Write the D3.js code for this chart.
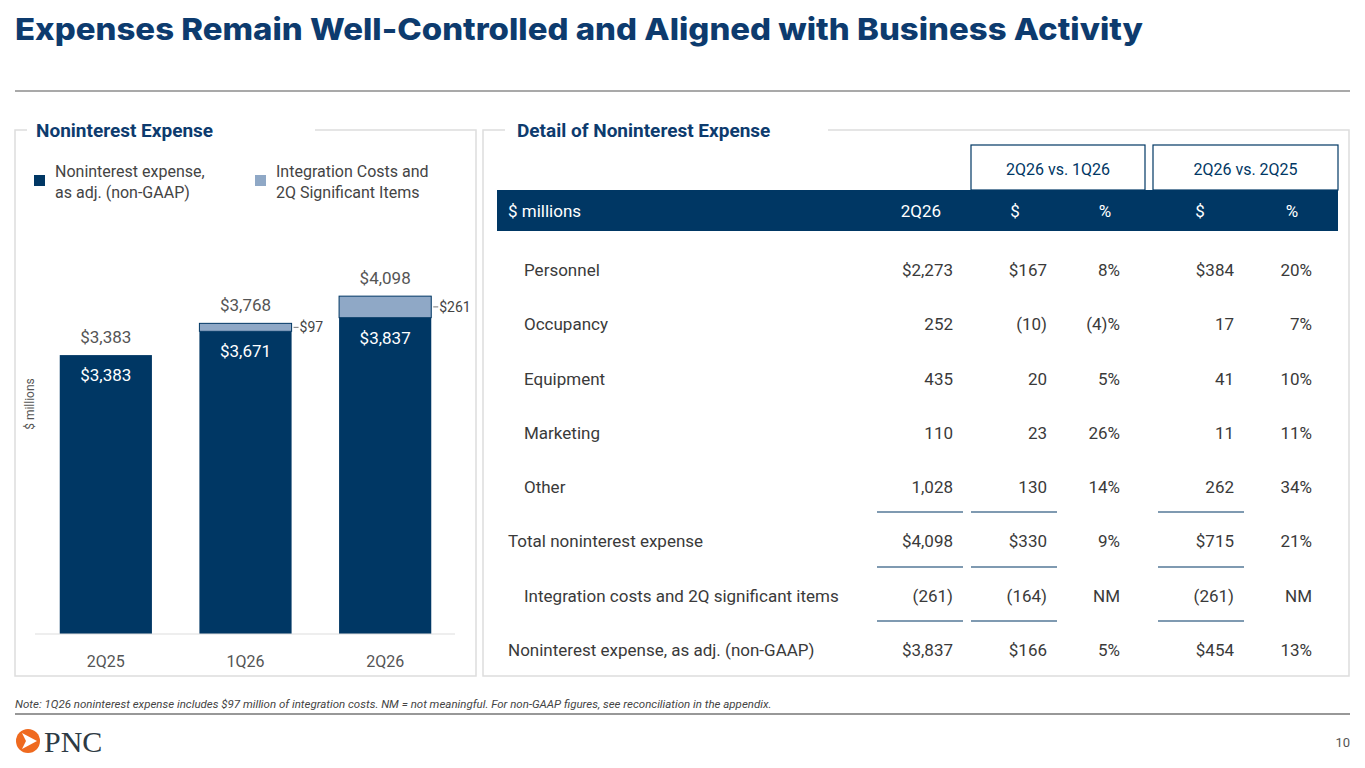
<!DOCTYPE html><html><head><meta charset="utf-8">
<script src="https://cdn.jsdelivr.net/npm/d3@7"></script>
<style>body{margin:0;background:#fff}svg{display:block}svg{font-family:Roboto,"Open Sans",sans-serif}</style></head><body>
<svg id="c" width="1365" height="768"></svg>
<script>
const quarters=["2Q25","1Q26","2Q26"];
const adjExpense=[3383,3671,3837];
const integration=[0,97,261];
const totals=[3383,3768,4098];
const tableHeaders=["$ millions","2Q26","$","%","$","%"];
const rowLabels=["Personnel","Occupancy","Equipment","Marketing","Other","Total noninterest expense","Integration costs and 2Q significant items","Noninterest expense, as adj. (non-GAAP)"];
const col2Q26=["$2,273","252","435","110","1,028","$4,098","(261)","$3,837"];
const colQoQd=["$167","(10)","20","23","130","$330","(164)","$166"];
const colQoQp=["8%","(4)%","5%","26%","14%","9%","NM","5%"];
const colYoYd=["$384","17","41","11","262","$715","(261)","$454"];
const colYoYp=["20%","7%","10%","11%","34%","21%","NM","13%"];
const indent=[1,1,1,1,1,0,1,0];

const navy="#003764", light="#8fa8c6", txt="#3a3a3a";
const svg=d3.select("#c");
svg.append("text").attr("x",15).attr("y",40).style("font-family","Inter").attr("font-weight",800).attr("font-size",30).attr("textLength",1128).attr("lengthAdjust","spacingAndGlyphs").attr("fill","#0d3b6e").text("Expenses Remain Well-Controlled and Aligned with Business Activity");
svg.append("line").attr("x1",15).attr("x2",1350).attr("y1",91).attr("y2",91).attr("stroke","#555").attr("stroke-width",1.2);
function panel(x1,x2,tx1,tx2,title,tx){
  const g=svg.append("g").attr("fill","none").attr("stroke","#ddd").attr("stroke-width",1.5);
  g.append("path").attr("d",`M${tx2},130H${x2}V676H${x1}V130H${tx1}`);
  svg.append("text").attr("x",tx).attr("y",137).attr("font-weight",700).attr("font-size",19).attr("fill","#0d3b6e").text(title);
}
panel(15,476,27,315,"Noninterest Expense",36);
panel(483,1349,505,828,"Detail of Noninterest Expense",517);
svg.append("rect").attr("x",34).attr("y",175).attr("width",11).attr("height",11).attr("fill",navy);
svg.append("rect").attr("x",255).attr("y",175).attr("width",11).attr("height",11).attr("fill",light);
[["Noninterest expense,","as adj. (non-GAAP)",55],["Integration Costs and","2Q Significant Items",276]].forEach(l=>{
  const t=svg.append("text").attr("x",l[2]).attr("y",177).attr("font-size",16).attr("fill","#444");
  t.append("tspan").attr("x",l[2]).text(l[0]);t.append("tspan").attr("x",l[2]).attr("dy",21).text(l[1]);
});
const x=d3.scaleBand().domain(quarters).range([36,455]).paddingInner(0.34).paddingOuter(0.17);
const y=d3.scaleLinear().domain([0,4500]).range([634,263]);
const g=svg.append("g");
g.selectAll(".a").data(quarters).join("rect").attr("x",d=>x(d)).attr("width",x.bandwidth()).attr("y",(d,i)=>y(adjExpense[i])).attr("height",(d,i)=>634-y(adjExpense[i])).attr("fill",navy);
g.selectAll(".b").data(quarters).join("rect").attr("x",d=>x(d)).attr("width",x.bandwidth()).attr("y",(d,i)=>y(totals[i])).attr("height",(d,i)=>y(adjExpense[i])-y(totals[i])).attr("fill",light).attr("stroke",navy).attr("stroke-width",(d,i)=>integration[i]?1:0);
g.selectAll(".t").data(quarters).join("text").attr("x",d=>x(d)+x.bandwidth()/2).attr("y",(d,i)=>y(totals[i])-12).attr("text-anchor","middle").attr("font-size",17).attr("fill","#555").text((d,i)=>"$"+d3.format(",")(totals[i]));
g.selectAll(".in").data(quarters).join("text").attr("x",d=>x(d)+x.bandwidth()/2).attr("y",(d,i)=>y(adjExpense[i])+26).attr("text-anchor","middle").attr("font-size",17).attr("fill","#fff").text((d,i)=>"$"+d3.format(",")(adjExpense[i]));
quarters.forEach((q,i)=>{ if(!integration[i])return;
  const ym=(y(totals[i])+y(adjExpense[i]))/2;
  g.append("line").attr("x1",x(q)+x.bandwidth()+2).attr("x2",x(q)+x.bandwidth()+7).attr("y1",ym).attr("y2",ym).attr("stroke","#777");
  g.append("text").attr("x",x(q)+x.bandwidth()+8).attr("y",ym+5).attr("font-size",14).attr("fill","#444").text("$"+integration[i]);
});
const ax=svg.append("g").attr("transform","translate(0,634)").call(d3.axisBottom(x).tickSize(0).tickPadding(22));
ax.select(".domain").attr("stroke","#ddd").attr("d","M35,0H455");
ax.selectAll("text").attr("font-size",16).attr("fill","#555").style("font-family","Roboto");
svg.append("text").attr("transform","translate(34,404) rotate(-90)").attr("text-anchor","middle").attr("font-size",12).attr("fill","#555").text("$ millions");
[[971,1145,"2Q26 vs. 1Q26"],[1153,1338,"2Q26 vs. 2Q25"]].forEach(b=>{
  svg.append("rect").attr("x",b[0]).attr("y",145).attr("width",b[1]-b[0]).attr("height",45).attr("fill","none").attr("stroke",navy).attr("stroke-width",1.2);
  svg.append("text").attr("x",(b[0]+b[1])/2).attr("y",175).attr("text-anchor","middle").attr("font-size",16).attr("fill",navy).text(b[2]);
});
svg.append("rect").attr("x",497).attr("y",190).attr("width",841).attr("height",41).attr("fill",navy);
const hx=[[508,"start"],[941,"end"],[1015,"middle"],[1105,"middle"],[1200,"middle"],[1292,"middle"]];
tableHeaders.forEach((h,i)=>svg.append("text").attr("x",hx[i][0]).attr("y",217).attr("text-anchor",hx[i][1]).attr("font-size",17).attr("fill","#fff").text(h));
const rowY=d3.scalePoint().domain(rowLabels).range([270,650]);
const cols=[[col2Q26,953],[colQoQd,1047],[colQoQp,1120],[colYoYd,1234],[colYoYp,1312]];
rowLabels.forEach((r,i)=>{
  const yy=rowY(r)+6;
  svg.append("text").attr("x",indent[i]?524:508).attr("y",yy).attr("font-size",17).attr("fill",txt).text(r);
  cols.forEach(c=>svg.append("text").attr("x",c[1]).attr("y",yy).attr("text-anchor","end").attr("font-size",17).attr("fill",txt).text(c[0][i]));
});
[512,567,621].forEach(ly=>[[877,963],[971,1057],[1158,1244]].forEach(s=>svg.append("line").attr("x1",s[0]).attr("x2",s[1]).attr("y1",ly).attr("y2",ly).attr("stroke",navy).attr("stroke-width",1.2)));
svg.append("text").attr("x",15).attr("y",708).attr("font-size",11.5).attr("font-style","italic").attr("fill","#444").text("Note: 1Q26 noninterest expense includes $97 million of integration costs. NM = not meaningful. For non-GAAP figures, see reconciliation in the appendix.");
svg.append("line").attr("x1",15).attr("x2",1350).attr("y1",714).attr("y2",714).attr("stroke","#333").attr("stroke-width",1.2);
svg.append("circle").attr("cx",28).attr("cy",741).attr("r",12).attr("fill","#ef6a1f");
svg.append("path").attr("d","M22,733L37,741L22,749L26,741Z").attr("fill","#fff");
svg.append("text").attr("x",44).attr("y",752).style("font-family","Liberation Serif").attr("font-size",30).attr("fill","#2d3a44").text("PNC");
svg.append("text").attr("x",1350).attr("y",747).attr("text-anchor","end").attr("font-size",13).attr("fill","#555").text("10");
</script></body></html>
